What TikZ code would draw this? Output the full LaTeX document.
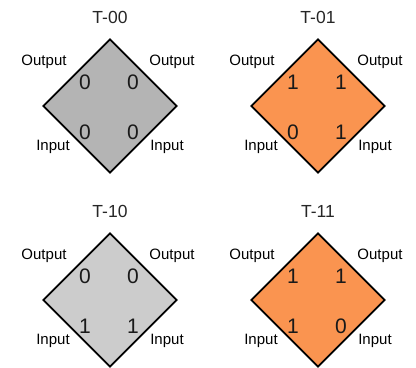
\documentclass[tikz,border=0pt]{standalone}
\usepackage{fontspec}
\setmainfont{Liberation Sans}
\usetikzlibrary{shapes.geometric}
\definecolor{tgray}{HTML}{B4B4B4}
\definecolor{tlight}{HTML}{CCCCCC}
\definecolor{torange}{HTML}{FA9450}
\tikzset{
  tilebox/.style={diamond,draw=black,line width=1.8bp,minimum width=134bp,minimum height=134bp,inner sep=0pt,aspect=1},
  tiletitle/.style={font=\fontsize{17.5bp}{19bp}\selectfont,inner sep=0pt,text=black!85},
  portlabel/.style={font=\fontsize{15bp}{17bp}\selectfont,inner sep=0pt},
  bitlabel/.style={font=\fontsize{21bp}{23bp}\selectfont,inner sep=0pt,text=black!90}
}
\newcommand{\mytile}[8]{%
  \begin{scope}[shift={(#1)}]
    \node[tilebox,fill=#2] (d#3) at (0,0) {};
    \node[tiletitle] (t#3) at (0,-89) {T-#3};
    \node[portlabel] (ol#3) at (-66,-44) {Output};
    \node[portlabel] (or#3) at (62,-44) {Output};
    \node[portlabel] (il#3) at (-57,41) {Input};
    \node[portlabel] (ir#3) at (57,41) {Input};
    \node[bitlabel] (a#3) at (-25,-24) {#4};
    \node[bitlabel] (b#3) at (23,-24) {#5};
    \node[bitlabel] (c#3) at (-25,26) {#6};
    \node[bitlabel] (e#3) at (23,26) {#7};
  \end{scope}}
\begin{document}
\begin{tikzpicture}[x=1bp,y=-1bp]
\useasboundingbox (0,0) rectangle (416,368);
\mytile{110,106}{tgray}{00}{0}{0}{0}{0}{}
\mytile{318,106}{torange}{01}{1}{1}{0}{1}{}
\mytile{110,300}{tlight}{10}{0}{0}{1}{1}{}
\mytile{318,300}{torange}{11}{1}{1}{1}{0}{}
\end{tikzpicture}
\end{document}
